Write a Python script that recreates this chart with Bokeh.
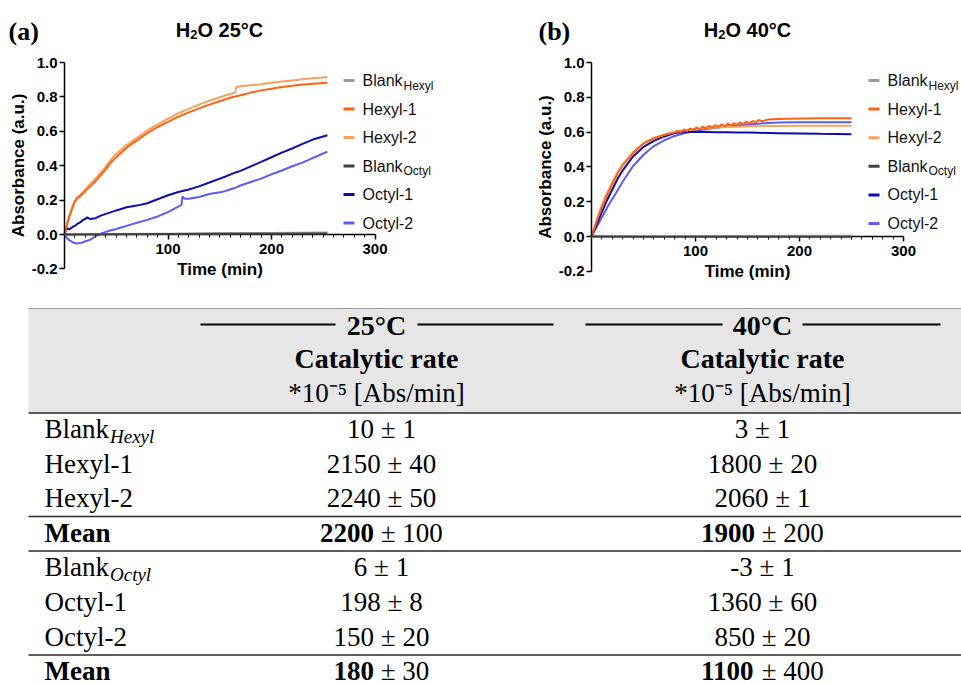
from bokeh.plotting import figure
from bokeh.layouts import column, row
from bokeh.models import Range1d, LinearAxis, FixedTicker, PrintfTickFormatter
from bokeh.core.properties import value
from bokeh.embed import file_html
from bokeh.resources import INLINE

# ---------------- data : panel (a) H2O 25 C ----------------
t_a = [0, 1, 3, 5, 8, 10, 12, 15, 18, 20, 22, 25, 30, 35, 40, 45, 50, 60, 70, 80, 90,
       100, 110, 113, 114, 116, 120, 130, 140, 150, 155, 160, 165, 166, 170, 180, 190,
       200, 210, 220, 230, 240, 254]
hexyl1_a = [0, 0.025, 0.07, 0.11, 0.16, 0.19, 0.21, 0.222, 0.24, 0.252, 0.265, 0.28, 0.31,
            0.345, 0.38, 0.42, 0.45, 0.505, 0.547, 0.59, 0.625, 0.655, 0.685, 0.692, 0.695,
            0.70, 0.71, 0.733, 0.755, 0.775, 0.785, 0.795, 0.802, 0.804, 0.81, 0.825, 0.838,
            0.848, 0.857, 0.865, 0.872, 0.877, 0.882]
hexyl2_a = [0, 0.025, 0.072, 0.115, 0.165, 0.195, 0.213, 0.228, 0.248, 0.262, 0.276, 0.295,
            0.325, 0.36, 0.395, 0.437, 0.47, 0.52, 0.562, 0.605, 0.64, 0.673, 0.705, 0.712,
            0.715, 0.72, 0.73, 0.755, 0.778, 0.798, 0.808, 0.817, 0.826, 0.858, 0.862, 0.868,
            0.874, 0.882, 0.889, 0.896, 0.903, 0.908, 0.915]
octyl1_a = [0, 0.02, 0.035, 0.03, 0.045, 0.05, 0.06, 0.07, 0.085, 0.09, 0.1, 0.09, 0.095,
            0.11, 0.12, 0.13, 0.14, 0.158, 0.168, 0.182, 0.205, 0.228, 0.247, 0.251, 0.253,
            0.256, 0.262, 0.28, 0.302, 0.325, 0.336, 0.348, 0.36, 0.362, 0.37, 0.396, 0.422,
            0.449, 0.476, 0.5, 0.527, 0.552, 0.577]
octyl2_a = [0, -0.01, -0.025, -0.035, -0.045, -0.05, -0.052, -0.05, -0.045, -0.04, -0.036,
            -0.03, -0.01, 0.004, 0.015, 0.025, 0.032, 0.05, 0.068, 0.085, 0.105, 0.13, 0.162,
            0.172, 0.222, 0.208, 0.208, 0.218, 0.235, 0.245, 0.252, 0.262, 0.272, 0.274,
            0.285, 0.305, 0.325, 0.35, 0.372, 0.397, 0.418, 0.445, 0.482]
t_blank_a = [0, 50, 100, 150, 200, 254]
blank_hexyl_a = [0.0, 0.003, 0.005, 0.007, 0.009, 0.011]
blank_octyl_a = [0.0, 0.002, 0.003, 0.004, 0.005, 0.006]

# ---------------- data : panel (b) H2O 40 C ----------------
t_b = [0, 5, 10, 15, 20, 25, 30, 40, 50, 60, 70, 80, 90, 100, 110, 120, 130, 140, 150,
       160, 170, 180, 200, 220, 250]
t_b_h1 = [0, 5, 10, 15, 20, 25, 30, 40, 50, 60, 70, 80, 83, 86, 89, 92, 95, 98, 101, 104,
          107, 110, 113, 116, 119, 122, 125, 128, 131, 134, 137, 140, 143, 146, 149, 152,
          155, 158, 161, 164, 170, 180, 200, 220, 250]
hexyl1_b = [0, 0.09, 0.17, 0.24, 0.3, 0.36, 0.41, 0.48, 0.535, 0.565, 0.585, 0.6, 0.608,
            0.6, 0.615, 0.606, 0.62, 0.612, 0.628, 0.616, 0.632, 0.622, 0.636, 0.626, 0.64,
            0.63, 0.645, 0.634, 0.648, 0.638, 0.652, 0.642, 0.656, 0.646, 0.66, 0.65, 0.664,
            0.655, 0.67, 0.662, 0.672, 0.676, 0.678, 0.68, 0.68]
hexyl2_b = [0, 0.095, 0.18, 0.25, 0.31, 0.37, 0.415, 0.485, 0.535, 0.565, 0.585, 0.6, 0.61,
            0.617, 0.622, 0.626, 0.629, 0.631, 0.633, 0.634, 0.635, 0.635, 0.636, 0.636, 0.636]
octyl1_b = [0, 0.07, 0.14, 0.21, 0.27, 0.33, 0.38, 0.46, 0.515, 0.55, 0.575, 0.595, 0.6, 0.6,
            0.6, 0.599, 0.599, 0.598, 0.597, 0.596, 0.595, 0.594, 0.592, 0.59, 0.588]
octyl2_b = [0, 0.055, 0.11, 0.165, 0.215, 0.265, 0.315, 0.405, 0.47, 0.52, 0.553, 0.578,
            0.595, 0.608, 0.617, 0.625, 0.632, 0.638, 0.643, 0.648, 0.652, 0.655, 0.656,
            0.657, 0.657]
t_blank_b = [0, 50, 100, 150, 200, 250]
blank_hexyl_b = [0.0, 0.002, 0.003, 0.003, 0.004, 0.004]
blank_octyl_b = [0.0, -0.001, -0.001, -0.002, -0.002, -0.002]

# ---------------- legend / axes ----------------
legend_labels = ["Blank", "Hexyl-1", "Hexyl-2", "Blank", "Octyl-1", "Octyl-2"]
legend_subs = ["Hexyl", "", "", "Octyl", "", ""]
series_colors = ["#9b9b9b", "#ff6210", "#f4a261", "#404040", "#0d0daa", "#5c5cf2"]
x_ticks = [100, 200, 300]
x_minor = [m for m in range(10, 300, 10) if m % 100]
y_ticks = [-0.2, 0.0, 0.2, 0.4, 0.6, 0.8, 1.0]
title_parts_a = ["H", "2", "O 25°C"]
title_parts_b = ["H", "2", "O 40°C"]

# ---------------- table ----------------
row_names = ["Blank", "Hexyl-1", "Hexyl-2", "Mean", "Blank", "Octyl-1", "Octyl-2", "Mean"]
row_subs = ["Hexyl", "", "", "", "Octyl", "", "", ""]
row_bold = [False, False, False, True, False, False, False, True]
rate_25 = [10, 2150, 2240, 2200, 6, 198, 150, 180]
err_25 = [1, 40, 50, 100, 1, 8, 20, 30]
rate_40 = [3, 1800, 2060, 1900, -3, 1360, 850, 1100]
err_40 = [1, 20, 1, 200, 1, 60, 20, 400]
temps = ["25°C", "40°C"]
head_line1 = "Catalytic rate"
head_line2 = "*10⁻⁵ [Abs/min]"

SANS = "Liberation Sans"
SERIF = "Liberation Serif"


def make_chart(W, H, ox, oy, sx, sy, series, title_parts, title_cx, tag, tag_x,
               leg_line_x, leg_text_x, leg_y0, leg_dy):
    X = lambda px: (px - ox) / sx
    Y = lambda py: (oy - py) / sy
    p = figure(width=W, height=H, x_range=Range1d(X(0), X(W)), y_range=Range1d(Y(H), Y(0)),
               output_backend="svg", toolbar_location=None, min_border=0,
               x_axis_type=None, y_axis_type=None, outline_line_color=None)
    for t, v, ci, top in series:
        r = p.line(t, v, line_color=series_colors[ci], line_width=2)
        if top:
            r.level = "overlay"

    xa = LinearAxis(fixed_location=0, bounds=(0, 300),
                    ticker=FixedTicker(ticks=x_ticks, minor_ticks=x_minor),
                    axis_label="Time (min)")
    ya = LinearAxis(fixed_location=0, bounds=(-0.2, 1.0),
                    ticker=FixedTicker(ticks=y_ticks, minor_ticks=[]),
                    formatter=PrintfTickFormatter(format="%.1f"),
                    axis_label="Absorbance (a.u.)")
    for ax in (xa, ya):
        ax.axis_line_width = 1.5
        ax.axis_line_color = "black"
        ax.major_tick_line_width = 1.5
        ax.minor_tick_line_width = 1
        ax.major_tick_in = 0
        ax.major_tick_out = 5
        ax.minor_tick_in = 0
        ax.minor_tick_out = 3
        ax.major_label_text_font = SANS
        ax.major_label_text_font_style = "bold"
        ax.major_label_text_font_size = "15px"
        ax.major_label_text_color = "black"
        ax.axis_label_text_font = SANS
        ax.axis_label_text_font_style = "bold"
        ax.axis_label_text_font_size = "17px"
        ax.axis_label_text_color = "black"
    xa.major_label_standoff = 4
    xa.axis_label_standoff = 3
    ya.major_label_standoff = 2
    ya.axis_label_standoff = 1
    p.add_layout(xa, "below")
    p.add_layout(ya, "left")

    # legend drawn manually (subscripted labels)
    n = len(legend_labels)
    ys = [Y(leg_y0 + i * leg_dy) for i in range(n)]
    p.segment(x0=[X(leg_line_x[0])] * n, x1=[X(leg_line_x[1])] * n, y0=ys, y1=ys,
              line_color=series_colors, line_width=3)
    p.text(x=[X(leg_text_x)] * n, y=ys, text=legend_labels, text_font=value(SANS),
           text_font_size="16px", text_baseline="middle", text_align="left", text_color="#111111")
    sub_x, sub_y, sub_t = [], [], []
    for i, s in enumerate(legend_subs):
        if s:
            sub_x.append(X(leg_text_x + 41))
            sub_y.append(Y(leg_y0 + i * leg_dy + 5))
            sub_t.append(s)
    p.text(x=sub_x, y=sub_y, text=sub_t, text_font=value(SANS), text_font_size="12px",
           text_baseline="middle", text_align="left", text_color="#111111")

    # title "H2O xx°C" with a real subscript
    fs, fss = 20, 13
    w_h = 0.722 * fs
    w_2 = 0.556 * fss
    w_rest = 3.29 * fs
    left = title_cx - (w_h + w_2 + w_rest) / 2
    tstyle = dict(text_font=value(SANS), text_font_style="bold", text_baseline="middle",
                  text_align="left", text_color="black")
    p.text(x=[X(left)], y=[Y(29)], text=[title_parts[0]], text_font_size=f"{fs}px", **tstyle)
    p.text(x=[X(left + w_h)], y=[Y(34)], text=[title_parts[1]], text_font_size=f"{fss}px", **tstyle)
    p.text(x=[X(left + w_h + w_2)], y=[Y(29)], text=[title_parts[2]], text_font_size=f"{fs}px",
           **tstyle)
    p.text(x=[X(tag_x)], y=[Y(31)], text=[tag], text_font=value(SERIF), text_font_style="bold",
           text_font_size="26px", text_baseline="middle", text_align="left", text_color="black")
    return p


series_a = [
    (t_blank_a, blank_hexyl_a, 0, True),
    (t_blank_a, blank_octyl_a, 3, True),
    (t_a, octyl2_a, 5, False),
    (t_a, octyl1_a, 4, False),
    (t_a, hexyl2_a, 2, False),
    (t_a, hexyl1_a, 1, False),
]
series_b = [
    (t_blank_b, blank_hexyl_b, 0, True),
    (t_blank_b, blank_octyl_b, 3, True),
    (t_b, octyl2_b, 5, False),
    (t_b, octyl1_b, 4, False),
    (t_b, hexyl2_b, 2, False),
    (t_b_h1, hexyl1_b, 1, False),
]

CH = 303
pa = make_chart(480, CH, 64, 234, 1.035, 172, series_a, title_parts_a, 219, "(a)", 8,
                (343, 354), 362, 80, 28.5)
pb = make_chart(481, CH, 111, 236, 1.04, 174, series_b, title_parts_b, 267, "(b)", 58,
                (388, 399), 407, 80, 28.6)

# ---------------- table figure ----------------
TW, TH = 961, 685 - CH
T = figure(width=TW, height=TH, x_range=Range1d(0, TW), y_range=Range1d(TH, 0),
           output_backend="svg", toolbar_location=None, min_border=0,
           x_axis_type=None, y_axis_type=None, outline_line_color=None)
T.xgrid.visible = False
T.ygrid.visible = False
tx = lambda px: px
ty = lambda py: py - CH

T.quad(left=[tx(28)], right=[TW], top=[ty(308)], bottom=[ty(412.5)],
       fill_color="#e6e6e6", line_color=None)
T.segment(x0=[tx(28)], x1=[TW], y0=[ty(308)], y1=[ty(308)], line_color="#9a9a9a", line_width=1.2)
rule_y = [ty(412.5), ty(516), ty(550.5), ty(654.5)]
T.segment(x0=[tx(28)] * 4, x1=[TW] * 4, y0=rule_y, y1=rule_y, line_color="#2a2a2a",
          line_width=1.5)

col_c = [tx(381), tx(762)]
head_c = [tx(376), tx(762)]
# group rules around temperature headers
gx0 = [tx(200), tx(417), tx(585), tx(802)]
gx1 = [tx(335), tx(553), tx(722), tx(940)]
T.segment(x0=gx0, x1=gx1, y0=[ty(324)] * 4, y1=[ty(324)] * 4, line_color="black", line_width=2)
T.text(x=head_c, y=[ty(325)] * 2, text=temps, text_font=value(SERIF), text_font_style="bold",
       text_font_size="28px", text_baseline="middle", text_align="center", text_color="black")
T.text(x=head_c, y=[ty(358)] * 2, text=[head_line1] * 2, text_font=value(SERIF),
       text_font_style="bold", text_font_size="28px", text_baseline="middle",
       text_align="center", text_color="black")
T.text(x=head_c, y=[ty(392)] * 2, text=[head_line2] * 2, text_font=value(SERIF),
       text_font_size="27px", text_baseline="middle", text_align="center", text_color="black")

FS = 27
row_y = [ty(428.5 + i * 34.6) for i in range(len(row_names))]
lab_x = tx(44)
for i, name in enumerate(row_names):
    T.text(x=[lab_x], y=[row_y[i]], text=[name], text_font=value(SERIF),
           text_font_style="bold" if row_bold[i] else "normal", text_font_size=f"{FS}px",
           text_baseline="middle", text_align="left", text_color="black")
    if row_subs[i]:
        T.text(x=[lab_x + 2.389 * FS + 1], y=[row_y[i] + 7], text=[row_subs[i]],
               text_font=value(SERIF), text_font_style="italic", text_font_size="19px",
               text_baseline="middle", text_align="left", text_color="black")
    for c, (rates, errs) in enumerate(((rate_25, err_25), (rate_40, err_40))):
        r, e = rates[i], errs[i]
        if not row_bold[i]:
            T.text(x=[col_c[c]], y=[row_y[i]], text=[f"{r} ± {e}"], text_font=value(SERIF),
                   text_font_size=f"{FS}px", text_baseline="middle", text_align="center",
                   text_color="black")
        else:
            wb = len(str(r)) * 0.5 * FS
            wr = (0.25 + 0.564 + 0.25 + len(str(e)) * 0.5) * FS
            left = col_c[c] - (wb + wr) / 2
            T.text(x=[left], y=[row_y[i]], text=[str(r)], text_font=value(SERIF),
                   text_font_style="bold", text_font_size=f"{FS}px", text_baseline="middle",
                   text_align="left", text_color="black")
            T.text(x=[left + wb + 0.25 * FS], y=[row_y[i]], text=[f"± {e}"],
                   text_font=value(SERIF), text_font_size=f"{FS}px", text_baseline="middle",
                   text_align="left", text_color="black")

layout = column(row(pa, pb), T)
open("out.html", "w").write(file_html(layout, INLINE))
